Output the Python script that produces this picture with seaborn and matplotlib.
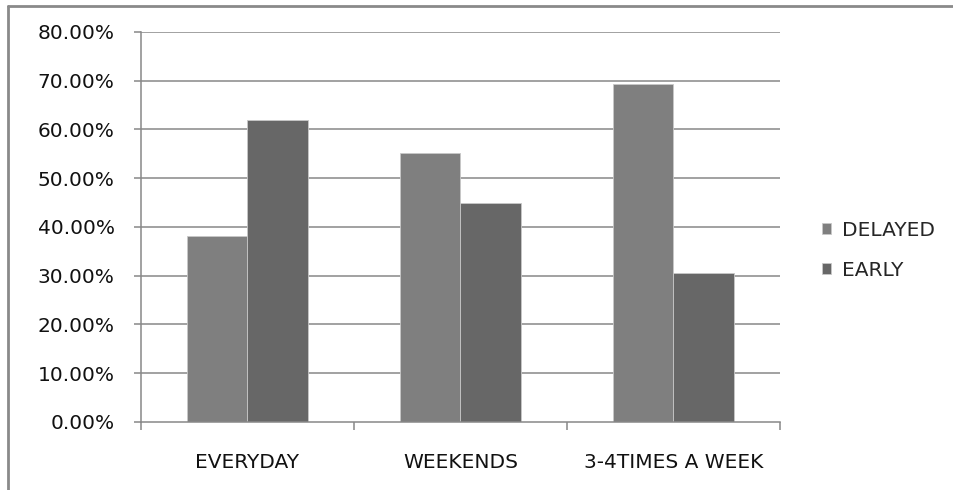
import matplotlib
matplotlib.use("Agg")
import matplotlib.pyplot as plt
from matplotlib.lines import Line2D
from matplotlib.ticker import PercentFormatter, FixedLocator
import seaborn as sns
import pandas as pd

categories = ["EVERYDAY", "WEEKENDS", "3-4TIMES A WEEK"]
series_names = ["DELAYED", "EARLY"]
delayed = [0.381, 0.551, 0.694]
early = [0.619, 0.449, 0.306]
y_ticks = [0.0, 0.1, 0.2, 0.3, 0.4, 0.5, 0.6, 0.7, 0.8]

df = pd.DataFrame({
    "category": categories * 2,
    "series": [series_names[0]] * len(categories) + [series_names[1]] * len(categories),
    "value": delayed + early,
})

sns.set_theme(style="white")
plt.rcParams["font.family"] = ["DejaVu Sans"]

fig = plt.figure(figsize=(9.54, 4.90), dpi=100)
ax = fig.add_axes([0.1478, 0.1388, 0.6698, 0.7959])

grid_color = "#888888"
ax.set_axisbelow(True)
for t in y_ticks[1:]:
    ax.axhline(t, color=grid_color, lw=1.1, zorder=0)

sns.barplot(
    data=df, x="category", y="value", hue="series",
    hue_order=series_names, order=categories,
    palette=["#7f7f7f", "#676767"], width=0.571,
    edgecolor="#c8c8c8", linewidth=0.6, saturation=1,
    ax=ax, legend=True,
)

ax.set_xlim(-0.5, 2.5)
ax.set_ylim(0, 0.8)
ax.set_yticks(y_ticks)
ax.yaxis.set_major_formatter(PercentFormatter(1.0, decimals=2))
ax.set_xlabel("")
ax.set_ylabel("")

for side in ["top", "right"]:
    ax.spines[side].set_visible(False)
for side in ["left", "bottom"]:
    ax.spines[side].set_color(grid_color)
    ax.spines[side].set_linewidth(1.1)

ax.tick_params(axis="y", which="major", left=True, length=5, width=1.1,
               color=grid_color, pad=14, labelsize=14.5, labelcolor="#111111")
ax.tick_params(axis="x", which="major", bottom=False, length=0, pad=22,
               labelsize=14.5, labelcolor="#111111")
ax.xaxis.set_minor_locator(FixedLocator([-0.5, 0.5, 1.5, 2.5]))
ax.tick_params(axis="x", which="minor", bottom=True, length=6, width=1.1,
               color=grid_color)

handles, labels = ax.get_legend_handles_labels()
ax.legend(handles, labels, loc="center left", bbox_to_anchor=(0.8535, 0.489),
          bbox_transform=fig.transFigure, frameon=False, fontsize=14.5,
          handlelength=0.45, handleheight=0.45, handletextpad=0.55,
          labelspacing=1.05, borderaxespad=0)

# chart-area frame along the left and top
fig.add_artist(Line2D([0.0085, 0.0085], [0.0, 0.988], transform=fig.transFigure,
                      color="#8a8a8a", lw=2))
fig.add_artist(Line2D([0.0085, 1.0], [0.988, 0.988], transform=fig.transFigure,
                      color="#8a8a8a", lw=2))

fig.savefig("out.png", dpi=100)
